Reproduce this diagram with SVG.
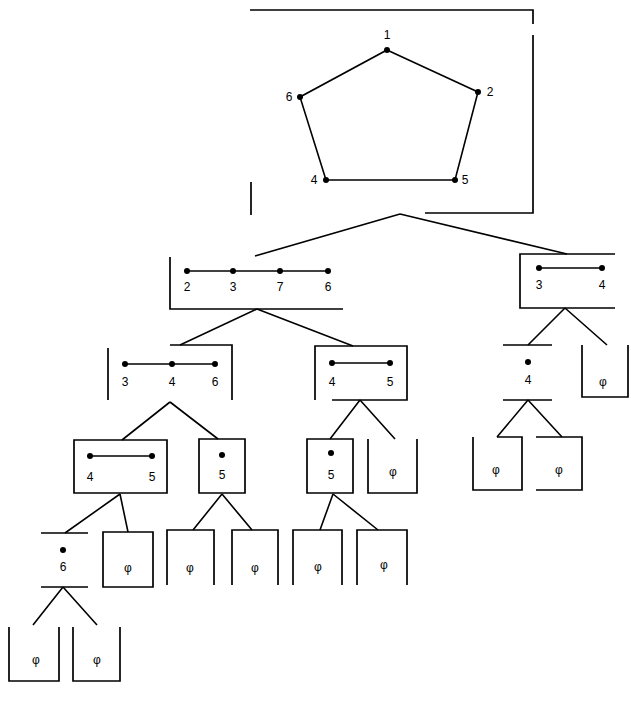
<svg xmlns="http://www.w3.org/2000/svg" width="631" height="702" viewBox="0 0 631 702">
<style>
.b{fill:none;stroke:#000;stroke-width:1.7}
.e{stroke:#000;stroke-width:1.6;fill:none}
.c{stroke:#000;stroke-width:1.6;fill:none}
.d{fill:#000}
text{font-family:"Liberation Sans","DejaVu Sans",sans-serif;font-size:12px;fill:#000;text-anchor:middle}
</style>
<rect width="631" height="702" fill="#fff"/>
<g id="connectors">
<path class="c" d="M400,214 L255,256 M400,214 L567,254"/>
<path class="c" d="M257,309 L180,345 M257,309 L353,346"/>
<path class="c" d="M565,308 L528,345 M565,308 L607,345"/>
<path class="c" d="M170,402 L122,440 M170,402 L218,439"/>
<path class="c" d="M360,400 L330,439 M360,400 L395,439"/>
<path class="c" d="M528,400 L497,437 M528,400 L562,437"/>
<path class="c" d="M120,494 L65,533 M120,494 L128,532"/>
<path class="c" d="M222,494 L193,530 M222,494 L252,530"/>
<path class="c" d="M333,494 L320,530 M333,494 L378,530"/>
<path class="c" d="M63,587 L33,625 M63,587 L97,625"/>
</g>
<g id="root">
<path class="b" d="M250,10 L533,10 L533,24 M533,35 L533,213 L425,213 M251,182 L251,215"/>
<polygon class="e" points="387,50 478,92 455,180 326,180 300,97"/>
<circle class="d" cx="387" cy="50" r="3"/>
<circle class="d" cx="478" cy="92" r="3"/>
<circle class="d" cx="455" cy="180" r="3"/>
<circle class="d" cx="326" cy="180" r="3"/>
<circle class="d" cx="300" cy="97" r="3"/>
<text x="387" y="39">1</text>
<text x="490" y="96">2</text>
<text x="465" y="184">5</text>
<text x="314" y="184">4</text>
<text x="289" y="101">6</text>
</g>
<g id="n2a">
<path class="b" d="M170,257 L170,309 L343,309"/>
<line class="e" x1="187" y1="271" x2="328" y2="271"/>
<circle class="d" cx="187" cy="271" r="3"/>
<circle class="d" cx="233" cy="271" r="3"/>
<circle class="d" cx="280" cy="271" r="3"/>
<circle class="d" cx="328" cy="271" r="3"/>
<text x="187" y="291">2</text>
<text x="233" y="291">3</text>
<text x="280" y="291">7</text>
<text x="328" y="291">6</text>
</g>
<g id="n2b">
<path class="b" d="M615,254 L520,254 L520,308 L615,308"/>
<line class="e" x1="539" y1="268" x2="602" y2="268"/>
<circle class="d" cx="539" cy="268" r="3"/>
<circle class="d" cx="602" cy="268" r="3"/>
<text x="539" y="289">3</text>
<text x="602" y="289">4</text>
</g>
<g id="n3a">
<path class="b" d="M108,348 L108,400 M170,345 L232,345 L232,400"/>
<line class="e" x1="125" y1="364" x2="215" y2="364"/>
<circle class="d" cx="125" cy="364" r="3"/>
<circle class="d" cx="172" cy="364" r="3"/>
<circle class="d" cx="215" cy="364" r="3"/>
<text x="125" y="386">3</text>
<text x="172" y="386">4</text>
<text x="215" y="386">6</text>
</g>
<g id="n3b">
<path class="b" d="M315,400 L315,346 L407,346 L407,400 L332,400"/>
<line class="e" x1="332" y1="363" x2="390" y2="363"/>
<circle class="d" cx="332" cy="363" r="3"/>
<circle class="d" cx="390" cy="363" r="3"/>
<text x="332" y="386">4</text>
<text x="390" y="386">5</text>
</g>
<g id="n3c">
<path class="b" d="M503,345 L552,345 M503,400 L552,400"/>
<circle class="d" cx="528" cy="362" r="3"/>
<text x="528" y="384">4</text>
</g>
<g id="n3d">
<path class="b" d="M582,345 L582,397 L628,397 L628,345"/>
<text x="603" y="386">φ</text>
</g>
<g id="n4a">
<path class="b" d="M74,440 L167,440 L167,493 L74,493 Z"/>
<line class="e" x1="90" y1="456" x2="152" y2="456"/>
<circle class="d" cx="90" cy="456" r="3"/>
<circle class="d" cx="152" cy="456" r="3"/>
<text x="90" y="481">4</text>
<text x="152" y="481">5</text>
</g>
<g id="n4b">
<path class="b" d="M199,439 L245,439 L245,493 L199,493 Z"/>
<circle class="d" cx="222" cy="455" r="3"/>
<text x="222" y="479">5</text>
</g>
<g id="n4c">
<path class="b" d="M307,439 L353,439 L353,493 L307,493 Z"/>
<circle class="d" cx="331" cy="453" r="3"/>
<text x="331" y="479">5</text>
</g>
<g id="n4d">
<path class="b" d="M368,439 L368,493 L417,493 L417,439"/>
<text x="393" y="476">φ</text>
</g>
<g id="n4e">
<path class="b" d="M473,437 L473,490 L522,490 L522,437 L497,437"/>
<text x="496" y="474">φ</text>
</g>
<g id="n4f">
<path class="b" d="M536,437 L582,437 L582,490 L536,490"/>
<text x="559" y="474">φ</text>
</g>
<g id="n5a">
<path class="b" d="M41,533 L88,533 M41,587 L88,587"/>
<circle class="d" cx="63" cy="550" r="3"/>
<text x="63" y="571">6</text>
</g>
<g id="n5b">
<path class="b" d="M103,532 L153,532 L153,587 L103,587 Z"/>
<text x="128" y="572">φ</text>
</g>
<g id="n5c">
<path class="b" d="M167,585 L167,530 L214,530 L214,585"/>
<text x="190" y="572">φ</text>
</g>
<g id="n5d">
<path class="b" d="M232,585 L232,530 L278,530 L278,585"/>
<text x="255" y="572">φ</text>
</g>
<g id="n5e">
<path class="b" d="M293,585 L293,530 L342,530 L342,585"/>
<text x="318" y="571">φ</text>
</g>
<g id="n5f">
<path class="b" d="M357,585 L357,530 L407,530 L407,585"/>
<text x="384" y="569">φ</text>
</g>
<g id="n6a">
<path class="b" d="M9,627 L9,681 L59,681 L59,627"/>
<text x="36" y="664">φ</text>
</g>
<g id="n6b">
<path class="b" d="M73,627 L73,681 L120,681 L120,627"/>
<text x="97" y="664">φ</text>
</g>
</svg>
